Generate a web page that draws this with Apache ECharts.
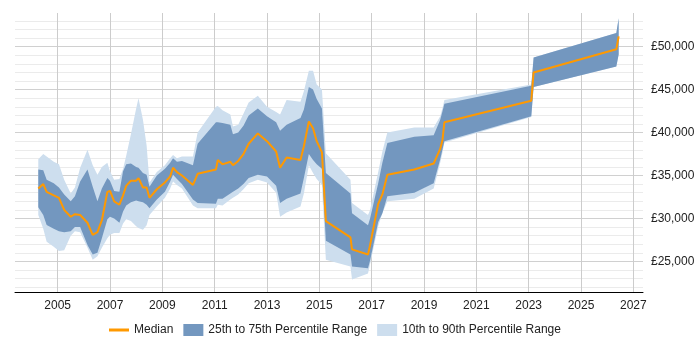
<!DOCTYPE html>
<html>
<head>
<meta charset="utf-8">
<script src="https://cdn.jsdelivr.net/npm/echarts@6/dist/echarts.min.js"></script>
<style>
  html, body { margin: 0; padding: 0; background: #fff; }
  #chart { width: 700px; height: 350px; }
</style>
</head>
<body>
<div id="chart"></div>
<script>
// decimal years
const years = [2004.26, 2004.45, 2004.58, 2004.85, 2005.05, 2005.25, 2005.5, 2005.66, 2005.86, 2006.14,
  2006.34, 2006.52, 2006.69, 2006.9, 2007.0, 2007.16, 2007.36, 2007.5, 2007.62, 2007.8,
  2008.0, 2008.09, 2008.26, 2008.4, 2008.51, 2008.79, 2009.1, 2009.3, 2009.41, 2009.56,
  2009.75, 2010.17, 2010.35, 2011.05, 2011.12, 2011.3, 2011.6, 2011.7, 2011.9, 2012.1,
  2012.3, 2012.65, 2013.0, 2013.35, 2013.5, 2013.75, 2014.28, 2014.41, 2014.6, 2014.76,
  2014.9, 2015.1, 2015.25, 2016.19, 2016.25, 2016.86, 2016.94, 2017.25, 2017.41, 2017.6,
  2018.63, 2019.37, 2019.62, 2019.71, 2019.78, 2023.1, 2023.19, 2026.35, 2026.44];

// salaries in £ thousands
const p10 = [30.4, 28.8, 27.3, 26.7, 26.2, 26.3, 28.0, 28.5, 28.4, 26.6,
  25.2, 25.6, 26.6, 27.7, 28.1, 28.3, 28.3, 29.4, 29.9, 29.7,
  29.1, 28.9, 28.7, 29.2, 30.4, 31.4, 32.4, 33.5, 34.3, 33.9,
  33.5, 31.5, 31.2, 31.2, 31.6, 31.5, 32.2, 32.4, 32.8, 33.4,
  34.1, 34.5, 34.2, 33.0, 30.2, 30.7, 31.4, 32.9, 36.2, 35.3,
  34.6, 33.9, 25.2, 24.4, 22.9, 23.6, 24.7, 29.1, 30.6, 32.0,
  32.3, 33.5, 36.5, 37.7, 38.85, 41.8, 45.3, 47.7, 49.1];
const p25 = [31.3, 30.4, 29.25, 28.8, 28.5, 28.4, 28.5, 29.0, 29.0, 26.9,
  25.8, 26.0, 27.7, 29.9, 30.2, 30.0, 29.5, 30.8, 31.5, 31.9,
  32.1, 32.0, 31.9, 31.6, 31.2, 32.2, 33.1, 34.3, 35.1, 34.6,
  34.0, 32.2, 31.8, 31.7, 32.3, 32.3, 32.9, 33.1, 33.5, 34.0,
  34.7, 35.1, 34.9, 33.8, 31.8, 32.3, 32.9, 34.7, 37.5, 36.8,
  36.3, 35.8, 27.4, 25.8, 24.4, 24.2, 25.1, 29.6, 30.6, 32.6,
  33.0, 34.1, 36.9, 38.1, 39.0, 41.9, 45.3, 47.7, 49.1];
const median = [33.5, 34.0, 33.1, 32.7, 32.4, 31.0, 30.2, 30.5, 30.4, 29.5,
  28.1, 28.4, 29.8, 33.1, 33.2, 32.0, 31.6, 32.7, 33.8, 34.4,
  34.4, 34.7, 33.6, 33.6, 32.4, 33.4, 34.2, 34.9, 35.9, 35.4,
  35.0, 33.9, 35.2, 35.7, 36.8, 36.3, 36.6, 36.2, 36.7, 37.5,
  38.7, 39.9, 39.0, 37.8, 35.9, 37.1, 36.8, 38.4, 41.3, 40.5,
  39.0, 37.7, 29.7, 27.8, 26.4, 25.8, 26.9, 31.7, 32.8, 35.1,
  35.7, 36.4, 38.1, 39.2, 41.2, 43.7, 47.0, 49.7, 51.2];
const p75 = [35.7, 35.6, 34.5, 34.1, 33.6, 32.8, 32.0, 32.6, 34.3, 35.7,
  33.7, 32.0, 33.5, 34.7, 34.4, 33.2, 33.1, 35.5, 36.3, 36.4,
  36.0, 35.9, 35.3, 35.1, 33.7, 35.0, 35.8, 36.5, 37.0, 36.6,
  36.7, 36.2, 38.7, 41.2, 41.2, 41.1, 40.9, 39.8, 40.0, 40.8,
  42.0, 42.8, 41.9, 41.2, 40.2, 40.9, 41.7, 42.7, 45.3, 45.0,
  43.9, 42.8, 35.3, 32.9, 30.6, 29.2, 30.0, 34.1, 36.5, 38.8,
  39.5, 39.7, 41.5, 42.5, 43.35, 45.45, 48.75, 51.6, 53.3];
const p90 = [36.9, 37.5, 37.2, 36.6, 36.3, 34.5, 32.9, 33.6, 35.9, 38.0,
  36.2, 35.1, 36.0, 36.5, 35.5, 34.5, 34.6, 35.8, 37.3, 39.8,
  42.8, 44.0, 41.5, 38.5, 34.2, 35.4, 36.2, 37.0, 37.4, 37.0,
  37.2, 37.2, 40.0, 43.0, 43.1, 42.6, 42.1, 40.7, 40.9, 42.2,
  43.5, 44.3, 43.0, 42.4, 42.1, 43.8, 43.6, 44.8, 47.2, 47.2,
  45.6, 45.0, 37.6, 34.5, 31.8, 30.4, 31.0, 35.4, 37.8, 40.0,
  40.6, 40.6, 41.9, 42.9, 43.8, 45.6, 48.75, 51.6, 53.3];

const xTicks = [2005, 2007, 2009, 2011, 2013, 2015, 2017, 2019, 2021, 2023, 2025, 2027];
const yTicks = [25000, 30000, 35000, 40000, 45000, 50000];
const yMinor = [22000, 23000, 24000, 26000, 27000, 28000, 29000, 31000, 32000, 33000, 34000,
  36000, 37000, 38000, 39000, 41000, 42000, 43000, 44000, 46000, 47000, 48000, 49000,
  51000, 52000, 53000];

const k = v => Math.round(v * 1000);
const dark = '#7397bf';
const light = '#cddeee';

// one polygon per band, drawn through the axis scales
function bandSeries(name, lo, hi, color, z) {
  return {
    name: name,
    type: 'custom',
    color: color,
    z: z,
    silent: true,
    data: years.map((y, i) => [y, k(lo[i]), k(hi[i])]),
    encode: { x: 0, y: [1, 2] },
    renderItem: function (params, api) {
      if (params.dataIndex !== 0) return null;
      const top = years.map((y, i) => api.coord([y, k(hi[i])]));
      const bottom = years.map((y, i) => api.coord([y, k(lo[i])])).reverse();
      return {
        type: 'polygon',
        shape: { points: top.concat(bottom) },
        style: { fill: color }
      };
    }
  };
}

let chart = echarts.init(document.getElementById('chart'));
chart.setOption({
  animation: false,
  textStyle: { fontFamily: 'Liberation Sans, Arial, sans-serif' },
  grid: { left: 15, right: 57, top: 13, bottom: 58 },
  legend: {
    bottom: 9,
    left: 104,
    itemWidth: 20,
    itemHeight: 12,
    itemGap: 10,
    textStyle: { fontSize: 12, color: '#222' },
    data: [
      { name: 'Median', icon: 'path://M0,0L20,0L20,3L0,3Z' },
      { name: '25th to 75th Percentile Range', icon: 'rect' },
      { name: '10th to 90th Percentile Range', icon: 'rect' }
    ]
  },
  xAxis: {
    type: 'value',
    min: 2003.37,
    max: 2027.37,
    axisLine: { lineStyle: { color: '#000', width: 1 } },
    axisTick: { show: false, customValues: xTicks },
    axisLabel: { customValues: xTicks, color: '#222', fontSize: 12, margin: 8, formatter: v => String(v) },
    splitLine: { show: true, lineStyle: { color: '#ccc' } }
  },
  yAxis: [
    {
      type: 'value',
      position: 'right',
      min: 21440,
      max: 53920,
      axisLine: { show: false },
      axisTick: { show: false, customValues: yTicks },
      axisLabel: {
        customValues: yTicks,
        color: '#222',
        fontSize: 12,
        margin: 8,
        formatter: v => '£' + v.toLocaleString('en-GB')
      },
      splitLine: { show: true, lineStyle: { color: '#d0d0d0' } }
    },
    {
      type: 'value',
      position: 'right',
      min: 21440,
      max: 53920,
      axisLine: { show: false },
      axisTick: { show: false, customValues: yMinor },
      axisLabel: { show: false, customValues: yMinor },
      splitLine: { show: true, lineStyle: { color: '#ebebeb' } }
    }
  ],
  series: [
    bandSeries('10th to 90th Percentile Range', p10, p90, light, 1),
    bandSeries('25th to 75th Percentile Range', p25, p75, dark, 2),
    {
      name: 'Median', type: 'line',
      data: years.map((y, i) => [y, k(median[i])]),
      symbol: 'none',
      color: '#ff9900', lineStyle: { color: '#ff9900', width: 2 }, z: 3
    }
  ]
});
</script>
</body>
</html>
